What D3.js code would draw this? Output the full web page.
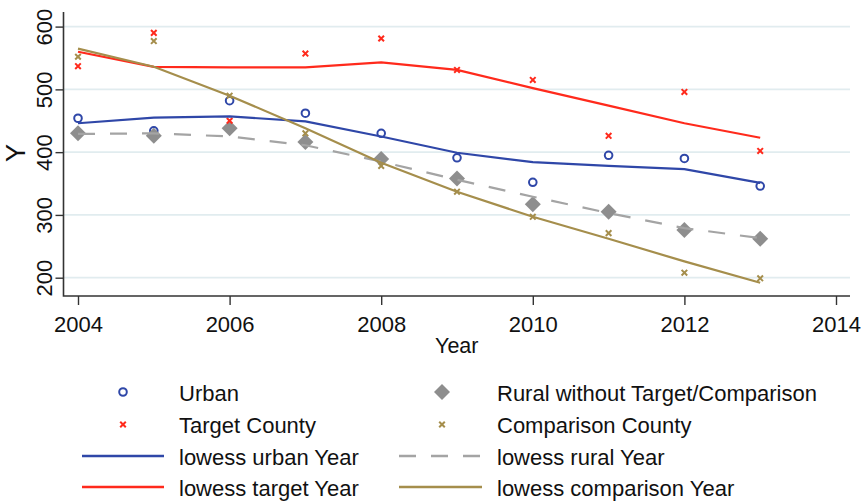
<!DOCTYPE html>
<html>
<head>
<meta charset="utf-8">
<script src="https://cdn.jsdelivr.net/npm/d3@7"></script>
<style>
  body { margin: 0; background: #fff; }
  text { font-family: "Liberation Sans", Arial, sans-serif; fill: #111; }
</style>
</head>
<body>
<svg id="chart"></svg>
<script>
// values
const years = [2004, 2005, 2006, 2007, 2008, 2009, 2010, 2011, 2012, 2013];
const urban = [454, 434, 482, 462, 430, 391, 352, 395, 390, 346];
const rural = [430, 426, 438, 416, 389, 358, 317, 305, 276, 262];
const target = [537, 590, 450, 557, 581, 531, 515, 426, 496, 402];
const comparison = [552, 577, 490, 430, 378, 337, 297, 271, 208, 199];

const lowessUrban = [446, 455, 457, 449, 425, 399, 384, 378, 373, 351];
const lowessRural = [429, 430, 425, 411, 385, 356, 329, 303, 279, 263];
const lowessTarget = [560, 536, 535, 535, 543, 531, 502, 474, 446, 423];
const lowessComparison = [565, 536, 490, 438, 383, 337, 297, 262, 226, 192];

const xTicks = [2004, 2006, 2008, 2010, 2012, 2014];
const yTicks = [200, 300, 400, 500, 600];

const width = 864, height = 501;
const blue = "#2f47a8", red = "#ff2a1c", olive = "#a58e4c", gray = "#8e8e8e", dashGray = "#a4a4a4";

const svg = d3.select("#chart")
  .attr("width", width)
  .attr("height", height);

svg.append("rect").attr("width", width).attr("height", height).attr("fill", "#fff");

const plotLeft = 63.5, plotRight = 850, plotTop = 12, plotBottom = 296;

const x = d3.scaleLinear().domain([2004, 2014]).range([78, 836]);
const y = d3.scaleLinear().domain([200, 600]).range([277.7, 26.6]);

// grid lines
svg.append("g")
  .selectAll("line")
  .data(yTicks)
  .enter()
  .append("line")
    .attr("x1", plotLeft)
    .attr("x2", plotRight)
    .attr("y1", d => y(d))
    .attr("y2", d => y(d))
    .attr("stroke", "#e1ecef")
    .attr("stroke-width", 1.7);

// y axis
const yAxis = svg.append("g")
  .attr("transform", "translate(" + plotLeft + ",0)")
  .call(d3.axisLeft(y).tickValues(yTicks).tickSize(8).tickFormat(d3.format("d")));
yAxis.select(".domain").remove();
yAxis.selectAll(".tick line").attr("stroke", "#333").attr("stroke-width", 1.4);
yAxis.selectAll(".tick text")
  .attr("x", null).attr("dy", null)
  .attr("transform", "translate(-12,0) rotate(-90)")
  .attr("text-anchor", "middle")
  .attr("y", 0)
  .style("font-size", "22px")
  .style("font-family", "Liberation Sans, Arial, sans-serif")
  .attr("fill", "#111");

// x axis
const xAxis = svg.append("g")
  .attr("transform", "translate(0," + plotBottom + ")")
  .call(d3.axisBottom(x).tickValues(xTicks).tickSize(9).tickFormat(d3.format("d")));
xAxis.select(".domain").remove();
xAxis.selectAll(".tick line").attr("stroke", "#333").attr("stroke-width", 1.4);
xAxis.selectAll(".tick text")
  .attr("y", 36).attr("dy", null)
  .style("font-size", "22px")
  .style("font-family", "Liberation Sans, Arial, sans-serif")
  .attr("fill", "#111");

// axis lines
svg.append("path")
  .attr("d", "M" + plotLeft + "," + plotTop + "V" + plotBottom + "H" + plotRight)
  .attr("fill", "none")
  .attr("stroke", "#333")
  .attr("stroke-width", 1.6);

// axis titles
svg.append("text")
  .attr("x", (plotLeft + plotRight) / 2)
  .attr("y", 353)
  .attr("text-anchor", "middle")
  .style("font-size", "21.5px")
  .text("Year");

svg.append("text")
  .attr("transform", "translate(25,153) rotate(-90)")
  .attr("text-anchor", "middle")
  .style("font-size", "27px")
  .text("Y");

// marker helpers
function circleMark(g, cx, cy, r) {
  g.append("circle")
    .attr("cx", cx).attr("cy", cy).attr("r", r)
    .attr("fill", "none").attr("stroke", blue).attr("stroke-width", 2);
}
function crossMark(g, cx, cy, s, color) {
  g.append("path")
    .attr("d", "M" + (cx - s) + "," + (cy - s) + "L" + (cx + s) + "," + (cy + s) +
               "M" + (cx - s) + "," + (cy + s) + "L" + (cx + s) + "," + (cy - s))
    .attr("stroke", color).attr("stroke-width", 2).attr("fill", "none");
}
function diamondMark(g, cx, cy, s) {
  g.append("path")
    .attr("d", "M" + cx + "," + (cy - s) + "L" + (cx + s) + "," + cy + "L" + cx + "," + (cy + s) + "L" + (cx - s) + "," + cy + "Z")
    .attr("fill", gray);
}

const marks = svg.append("g");
years.forEach((yr, i) => circleMark(marks, x(yr), y(urban[i]), 3.8));
years.forEach((yr, i) => diamondMark(marks, x(yr), y(rural[i]), 8));
years.forEach((yr, i) => crossMark(marks, x(yr), y(target[i]), 2.8, red));
years.forEach((yr, i) => crossMark(marks, x(yr), y(comparison[i]), 2.8, olive));

// lowess lines
const line = d3.line()
  .x((d, i) => x(years[i]))
  .y(d => y(d));

const lines = [
  { values: lowessUrban, color: blue, dash: null },
  { values: lowessRural, color: dashGray, dash: "17,15" },
  { values: lowessTarget, color: red, dash: null },
  { values: lowessComparison, color: olive, dash: null }
];

svg.append("g")
  .selectAll("path")
  .data(lines)
  .enter()
  .append("path")
    .attr("d", d => line(d.values))
    .attr("fill", "none")
    .attr("stroke", d => d.color)
    .attr("stroke-width", 2.2)
    .attr("stroke-dasharray", d => d.dash);

// legend
const legendRows = [392, 424.5, 456, 487];
const col1 = { sym: 123, x1: 82, x2: 164, text: 179 };
const col2 = { sym: 442, x1: 399, x2: 482, text: 497 };
const legend = svg.append("g");

function legendText(col, row, label) {
  legend.append("text")
    .attr("x", col.text)
    .attr("y", legendRows[row] + 8.5)
    .style("font-size", "22px")
    .text(label);
}
function legendLine(col, row, color, dash) {
  legend.append("line")
    .attr("x1", col.x1).attr("x2", col.x2)
    .attr("y1", legendRows[row]).attr("y2", legendRows[row])
    .attr("stroke", color).attr("stroke-width", 2.4)
    .attr("stroke-dasharray", dash);
}

circleMark(legend, col1.sym, legendRows[0], 3.8);
legendText(col1, 0, "Urban");
diamondMark(legend, col2.sym, legendRows[0], 8);
legendText(col2, 0, "Rural without Target/Comparison");
crossMark(legend, col1.sym, legendRows[1], 2.8, red);
legendText(col1, 1, "Target County");
crossMark(legend, col2.sym, legendRows[1], 2.8, olive);
legendText(col2, 1, "Comparison County");
legendLine(col1, 2, blue, null);
legendText(col1, 2, "lowess urban Year");
legendLine(col2, 2, dashGray, "17,15");
legendText(col2, 2, "lowess rural Year");
legendLine(col1, 3, red, null);
legendText(col1, 3, "lowess target Year");
legendLine(col2, 3, olive, null);
legendText(col2, 3, "lowess comparison Year");
</script>
</body>
</html>
